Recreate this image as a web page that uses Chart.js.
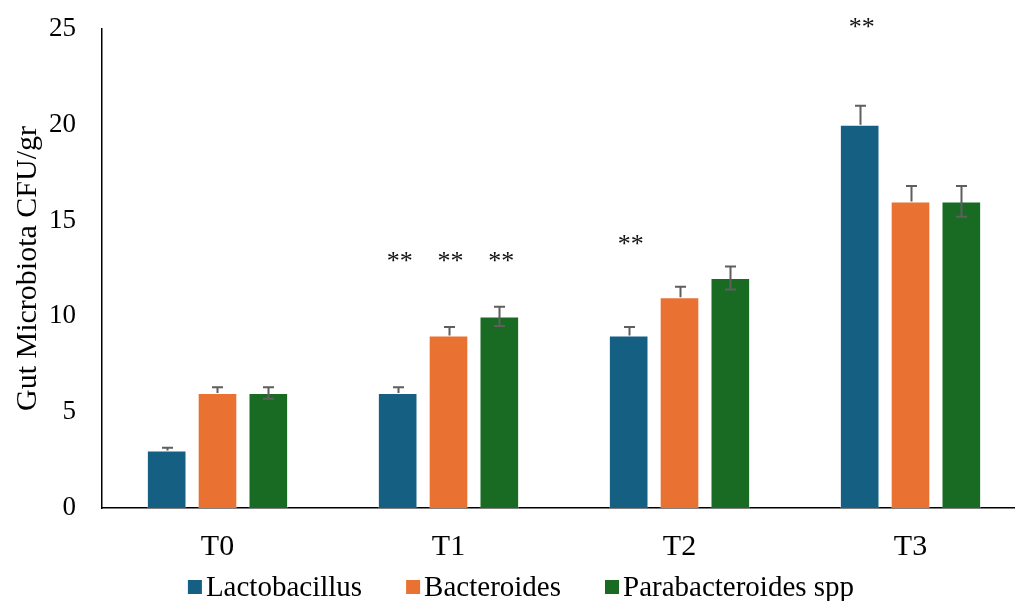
<!DOCTYPE html>
<html>
<head>
<meta charset="utf-8">
<script src="https://cdn.jsdelivr.net/npm/chart.js@4.4.1/dist/chart.umd.min.js"></script>
<style>
  html, body { margin: 0; padding: 0; background: #fff; overflow: hidden; }
  #wrap { width: 1015px; height: 601px; overflow: hidden; }
</style>
</head>
<body>
<div id="wrap"><canvas id="c" width="1042" height="601"></canvas></div>
<script>
// Sampling times and measured counts
const categories = ['T0', 'T1', 'T2', 'T3'];
const lactobacillus = [3, 6, 9, 20];
const bacteroides = [6, 9, 11, 16];
const parabacteroides = [6, 10, 12, 16];

// Standard deviations for each series
const lactobacillusErr = [0.15, 0.3, 0.45, 1.0];
const bacteroidesErr = [0.3, 0.45, 0.55, 0.8];
const parabacteroidesErr = [0.3, 0.5, 0.6, 0.8];

// Y axis ticks
const yTicks = [0, 5, 10, 15, 20, 25];

// Significance marks: [category index, series index, level on y scale]
const significance = [
  [1, 0, 13.0], [1, 1, 13.0], [1, 2, 13.0],
  [2, 0, 13.9],
  [3, 0, 25.2]
];

const serif = "'Liberation Serif', 'Times New Roman', serif";
const legendFont = "29px " + serif;

// Error bars and significance stars
const errorBars = {
  id: 'errorBars',
  afterDatasetsDraw(chart) {
    const ctx = chart.ctx;
    const y = chart.scales.y;
    ctx.save();
    ctx.strokeStyle = '#5e5e5e';
    ctx.lineWidth = 2;
    chart.data.datasets.forEach((ds, di) => {
      const meta = chart.getDatasetMeta(di);
      meta.data.forEach((bar, i) => {
        const v = ds.data[i], e = ds.errors[i];
        const top = y.getPixelForValue(v + e);
        const bottom = ds.bothSides ? y.getPixelForValue(v - e) : bar.y;
        const x = Math.round(bar.x) + 0.5;
        ctx.beginPath();
        ctx.moveTo(x, top); ctx.lineTo(x, bottom);
        ctx.moveTo(x - 5.5, top); ctx.lineTo(x + 5.5, top);
        if (ds.bothSides) { ctx.moveTo(x - 5.5, bottom); ctx.lineTo(x + 5.5, bottom); }
        ctx.stroke();
      });
    });
    ctx.fillStyle = '#111';
    ctx.font = "26px " + serif;
    ctx.textAlign = 'center';
    ctx.textBaseline = 'middle';
    significance.forEach(([ci, si, lvl]) => {
      const bar = chart.getDatasetMeta(si).data[ci];
      ctx.fillText('**', bar.x + 2, y.getPixelForValue(lvl) + 3);
    });
    ctx.restore();
  }
};

// Compact legend row under the axis: small square, tight gap, label
const bottomLegend = {
  id: 'bottomLegend',
  afterDraw(chart) {
    const ctx = chart.ctx;
    const ds = chart.data.datasets;
    const box = 14, gapText = 4, gapItem = 44;
    ctx.save();
    ctx.font = legendFont;
    const widths = ds.map(d => ctx.measureText(d.label).width);
    const total = widths.reduce((a, w) => a + box + gapText + w, 0) + gapItem * (ds.length - 1);
    let x = (chart.width - total) / 2;
    const cy = 587;
    ctx.textBaseline = 'middle';
    ctx.textAlign = 'left';
    ds.forEach((d, i) => {
      ctx.fillStyle = d.backgroundColor;
      ctx.fillRect(x, cy - box / 2, box, box);
      ctx.fillStyle = '#000';
      ctx.fillText(d.label, x + box + gapText, cy + 1);
      x += box + gapText + widths[i] + gapItem;
    });
    ctx.restore();
  }
};

new Chart(document.getElementById('c'), {
  type: 'bar',
  data: {
    labels: categories,
    datasets: [
      { label: 'Lactobacillus', data: lactobacillus, errors: lactobacillusErr, bothSides: false,
        backgroundColor: '#156082', borderColor: 'rgba(255,255,255,0.35)', borderWidth: 1 },
      { label: 'Bacteroides', data: bacteroides, errors: bacteroidesErr, bothSides: false,
        backgroundColor: '#E97132', borderColor: 'rgba(255,255,255,0.35)', borderWidth: 1 },
      { label: 'Parabacteroides spp', data: parabacteroides, errors: parabacteroidesErr, bothSides: true,
        backgroundColor: '#196B24', borderColor: 'rgba(255,255,255,0.35)', borderWidth: 1 }
    ]
  },
  options: {
    responsive: false,
    animation: false,
    devicePixelRatio: 1,
    layout: { padding: { top: 29, right: 16, left: 8, bottom: 15 } },
    datasets: { bar: { barPercentage: 0.78, categoryPercentage: 0.66 } },
    plugins: {
      legend: { display: false },
      tooltip: { enabled: false }
    },
    scales: {
      x: {
        grid: { display: false, drawTicks: false },
        border: { display: true, color: '#000', width: 1.5 },
        ticks: { font: { family: serif, size: 30 }, color: '#000', padding: 21 }
      },
      y: {
        min: 0, max: 25,
        afterBuildTicks(axis) { axis.ticks = yTicks.map(v => ({ value: v })); },
        afterFit(axis) { axis.width = 94; axis.paddingTop = 0; axis.paddingBottom = 0; },
        grid: { display: false, drawTicks: false },
        border: { display: true, color: '#000', width: 1.5 },
        ticks: { font: { family: serif, size: 27 }, color: '#000', padding: 26 },
        title: { display: true, text: 'Gut Microbiota CFU/gr', font: { family: serif, size: 30 }, color: '#000', padding: { top: 2, bottom: 2 } }
      }
    }
  },
  plugins: [errorBars, bottomLegend]
});
</script>
</body>
</html>
